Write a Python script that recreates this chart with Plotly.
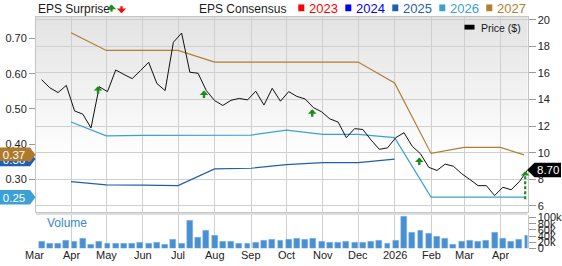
import pandas as pd
import plotly.graph_objects as go

# ---------------- data ----------------
# weekly closing price ($) and weekly volume (thousands of shares), Fridays
week_dates = pd.date_range("2025-03-07", periods=60, freq="7D")
price = [15.49, 14.88, 14.52, 15.06, 13.14, 12.90, 11.86, 14.96, 14.59, 16.22,
         15.88, 15.57, 16.17, 16.80, 15.20, 14.67, 18.30, 19.00, 16.05, 15.97,
         14.67, 13.92, 13.55, 13.94, 14.08, 13.97, 14.62, 13.58, 14.84, 13.87,
         14.59, 14.23, 14.04, 13.39, 13.07, 12.54, 12.30, 11.13, 11.81, 11.74,
         10.96, 10.25, 10.36, 11.13, 11.50, 10.48, 9.92, 8.90, 8.66, 9.14,
         8.98, 8.42, 7.98, 7.52, 7.52, 6.77, 7.40, 7.21, 7.81, 8.70]
volume_k = [22, 15, 15, 24, 22, 31, 13, 23, 14, 14,
            17, 14, 19, 15, 18, 12, 30, 16, 91, 36,
            58, 41, 21, 23, 16, 16, 19, 25, 30, 25,
            30, 32, 28, 32, 22, 19, 19, 22, 18, 19,
            23, 25, 14, 24, 104, 50, 59, 47, 38, 33,
            13, 23, 26, 22, 24, 50, 32, 22, 27, 41]

# consensus EPS estimates by fiscal year
eps_dates = ["2025-04-01", "2025-05-01", "2025-06-01", "2025-07-01", "2025-08-01",
             "2025-09-01", "2025-10-01", "2025-11-01", "2025-12-01", "2026-01-01",
             "2026-02-01", "2026-03-01", "2026-04-01", "2026-04-21"]
eps_2025 = [0.294, 0.285, 0.284, 0.283, 0.330, 0.332, 0.342, 0.348, 0.348, 0.358]
eps_2026 = [0.463, 0.424, 0.425, 0.425, 0.425, 0.426, 0.440, 0.428, 0.428, 0.419,
            0.25, 0.25, 0.25, 0.25]
eps_2027 = [0.716, 0.666, 0.666, 0.666, 0.633, 0.633, 0.633, 0.633, 0.633, 0.574,
            0.374, 0.391, 0.391, 0.37]

# positive EPS surprises (date, price level of the marker)
surprise_dates = ["2025-04-24", "2025-07-23", "2025-10-23", "2026-01-22"]
surprise_price = [15.00, 14.67, 13.26, 9.63]
# latest report marker: date, from, to ($)
latest_date = "2026-04-22"
latest_from, latest_to = 6.50, 8.60

month_ticks = ["2025-03-01", "2025-04-01", "2025-05-01", "2025-06-01", "2025-07-01",
               "2025-08-01", "2025-09-01", "2025-10-01", "2025-11-01", "2025-12-01",
               "2026-01-01", "2026-02-01", "2026-03-01", "2026-04-01"]
month_labels = ["Mar", "Apr", "May", "Jun", "Jul", "Aug", "Sep", "Oct", "Nov", "Dec",
                "2026", "Feb", "Mar", "Apr"]

legend_years = ["2023", "2024", "2025", "2026", "2027"]
year_colors = ["#ff0000", "#0000ff", "#1f5fb0", "#3da0d3", "#b37d30"]

# ---------------- geometry ----------------
W, H = 562, 266
X0, X1 = pd.Timestamp("2025-03-02 06:00"), pd.Timestamp("2026-04-23 23:00")
XDOM = [36 / W, 527.5 / W]
PRICE_TOP, PRICE_BOT = 14, 216
VOL_TOP, VOL_BOT = 219, 254
PRICE_DOM = [1 - PRICE_BOT / H, 1 - PRICE_TOP / H]
VOL_DOM = [1 - VOL_BOT / H, 1 - VOL_TOP / H]
EPS_RANGE = [0.2088, 0.7622]
PRICE_RANGE = [5.56, 20.24]
VOL_RANGE = [0, 109.4]

FONT = "Liberation Sans, Arial, sans-serif"
GRID = "#cfcfcf"
FRAME = "#c4c4c4"
GREEN = "#1c8c1c"


def px(x):
    return x / W


def py(y):
    return 1 - y / H


def xpaper(d):
    frac = (pd.Timestamp(d) - X0) / (X1 - X0)
    return XDOM[0] + frac * (XDOM[1] - XDOM[0])


def eps_pix(v):
    return PRICE_TOP + (EPS_RANGE[1] - v) / (EPS_RANGE[1] - EPS_RANGE[0]) * (PRICE_BOT - PRICE_TOP)


def price_pix(v):
    return PRICE_TOP + (PRICE_RANGE[1] - v) / (PRICE_RANGE[1] - PRICE_RANGE[0]) * (PRICE_BOT - PRICE_TOP)


fig = go.Figure()

# consensus lines (left axis)
for vals, col in [(eps_2025, year_colors[2]), (eps_2026, year_colors[3]), (eps_2027, year_colors[4])]:
    fig.add_trace(go.Scatter(x=eps_dates[:len(vals)], y=vals, mode="lines",
                             line=dict(color=col, width=1.2), xaxis="x", yaxis="y",
                             hoverinfo="skip", showlegend=False))

# price line (right axis)
fig.add_trace(go.Scatter(x=week_dates, y=price, mode="lines",
                         line=dict(color="#111111", width=1), xaxis="x", yaxis="y2",
                         hoverinfo="skip", showlegend=False))

# latest report: dashed stem
fig.add_trace(go.Scatter(x=[latest_date, latest_date], y=[latest_from, latest_to - 0.35],
                         mode="lines", line=dict(color=GREEN, width=2.2, dash="3px,2px"),
                         xaxis="x", yaxis="y2", hoverinfo="skip", showlegend=False))

# volume bars
fig.add_trace(go.Bar(x=week_dates, y=volume_k, xaxis="x2", yaxis="y3",
                     width=5 * 86400000, marker=dict(color="#4a8fd0", line=dict(color="#8dbbe6", width=0.5)),
                     hoverinfo="skip", showlegend=False))

shapes = []
annotations = []

# soft grey-to-white background of the price panel
N = 34
g_top, g_bot = PRICE_TOP, 165
for k in range(N):
    y0 = g_top + (g_bot - g_top) * k / N
    y1 = g_top + (g_bot - g_top) * (k + 1) / N + 0.5
    c = int(round(227 + (255 - 227) * k / (N - 1)))
    shapes.append(dict(type="rect", xref="paper", yref="paper", layer="below",
                       x0=XDOM[0], x1=XDOM[1], y0=py(y1), y1=py(y0),
                       fillcolor=f"rgb({c},{c},{c})", line=dict(width=0)))

# separator band between price and volume panels
shapes.append(dict(type="rect", xref="paper", yref="paper", layer="below",
                   x0=XDOM[0], x1=XDOM[1], y0=py(219.3), y1=py(216.5),
                   fillcolor="#dddddd", line=dict(width=0)))

# EPS surprise markers
for d, p in zip(surprise_dates, surprise_price):
    annotations.append(dict(x=d, y=p, xref="x", yref="y2", text="", showarrow=True,
                            ax=0, ay=9, arrowhead=1, arrowsize=0.6, arrowwidth=2.4,
                            arrowcolor=GREEN, standoff=0))
annotations.append(dict(x=latest_date, y=latest_to, xref="x", yref="y2", text="", showarrow=True,
                        ax=0, ay=5, arrowhead=1, arrowsize=0.6, arrowwidth=2.4,
                        arrowcolor=GREEN, standoff=0))


def left_badge(value, color, label):
    yc = eps_pix(value)
    path = (f"M 0,{py(yc - 7.5)} L {px(30)},{py(yc - 7.5)} L {px(35.5)},{py(yc)} "
            f"L {px(30)},{py(yc + 7.5)} L 0,{py(yc + 7.5)} Z")
    shapes.append(dict(type="path", path=path, xref="paper", yref="paper",
                       fillcolor=color, line=dict(width=0), layer="above"))
    # the label box carries the badge colour so later badges cover earlier labels
    annotations.append(dict(x=0, y=py(yc), xref="paper", yref="paper", text=label,
                            showarrow=False, xanchor="left", yanchor="middle",
                            width=28, height=13, borderpad=0, align="center",
                            bgcolor=color, borderwidth=0,
                            font=dict(family=FONT, size=11.5, color="white")))


left_badge(eps_2025[-1], year_colors[2], f"{eps_2025[-1]:.2f}")
left_badge(eps_2027[-1], "#b07a2e", f"{eps_2027[-1]:.2f}")
left_badge(eps_2026[-1], "#3aa0d5", f"{eps_2026[-1]:.2f}")

# last price badge on the right
yc = price_pix(price[-1])
path = (f"M {px(527)},{py(yc)} L {px(534.5)},{py(yc - 7.5)} L {px(561)},{py(yc - 7.5)} "
        f"L {px(561)},{py(yc + 7.5)} L {px(534.5)},{py(yc + 7.5)} Z")
shapes.append(dict(type="path", path=path, xref="paper", yref="paper",
                   fillcolor="#000000", line=dict(width=0), layer="above"))
annotations.append(dict(x=px(548), y=py(yc), xref="paper", yref="paper", text=f"{price[-1]:.2f}",
                        showarrow=False, xanchor="center", yanchor="middle",
                        font=dict(family=FONT, size=11.5, color="white")))

# header: titles and year legend
annotations.append(dict(x=px(35.5), y=py(6.5), xref="paper", yref="paper", text="EPS Surprise",
                        showarrow=False, xanchor="left", yanchor="middle",
                        font=dict(family=FONT, size=12, color="#1a1a1a")))
annotations.append(dict(x=px(111.5), y=py(1.5), xref="paper", yref="paper", text="", showarrow=True,
                        ax=0, ay=8.5, arrowhead=1, arrowsize=0.65, arrowwidth=2.4,
                        arrowcolor=GREEN, standoff=0))
annotations.append(dict(x=px(121.5), y=py(10.5), xref="paper", yref="paper", text="", showarrow=True,
                        ax=0, ay=-8.5, arrowhead=1, arrowsize=0.65, arrowwidth=2.4,
                        arrowcolor="#ee1111", standoff=0))
annotations.append(dict(x=px(196.5), y=py(6.5), xref="paper", yref="paper", text="EPS Consensus",
                        showarrow=False, xanchor="left", yanchor="middle",
                        font=dict(family=FONT, size=12, color="#1a1a1a")))
leg_x = [298.3, 345.3, 392.3, 439.3, 486.3]
for lx, yr, col in zip(leg_x, legend_years, year_colors):
    shapes.append(dict(type="rect", xref="paper", yref="paper", x0=px(lx), x1=px(lx + 6),
                       y0=py(8.5), y1=py(1.5), fillcolor=col, line=dict(width=0)))
    annotations.append(dict(x=px(lx + 8.5), y=py(5.5), xref="paper", yref="paper", text=yr,
                            showarrow=False, xanchor="left", yanchor="middle",
                            font=dict(family=FONT, size=13, color=col)))

# price legend inside the panel
shapes.append(dict(type="rect", xref="paper", yref="paper", x0=px(464.5), x1=px(474.5),
                   y0=py(27.5), y1=py(22.5), fillcolor="#000000", line=dict(width=0)))
annotations.append(dict(x=px(478.5), y=py(25.5), xref="paper", yref="paper", text="Price ($)",
                        showarrow=False, xanchor="left", yanchor="middle",
                        font=dict(family=FONT, size=10.5, color="#1a1a1a")))

# volume panel title
annotations.append(dict(x=px(44.5), y=py(228), xref="paper", yref="paper", text="Volume",
                        showarrow=False, xanchor="left", yanchor="middle",
                        font=dict(family=FONT, size=12, color="#3b86cc")))

# month labels under the volume panel
for d, lab in zip(month_ticks, month_labels):
    annotations.append(dict(x=xpaper(d), y=py(261), xref="paper", yref="paper", text=lab,
                            showarrow=False, xanchor="center", yanchor="middle",
                            font=dict(family=FONT, size=11, color="#222222")))

grid_ticks = month_ticks[1:]
tick_font = dict(family=FONT, size=11, color="#222222")

fig.update_layout(
    width=W, height=H,
    margin=dict(l=0, r=0, t=0, b=0, pad=0),
    paper_bgcolor="white", plot_bgcolor="rgba(0,0,0,0)",
    showlegend=False,
    xaxis=dict(domain=XDOM, range=[X0, X1], anchor="y", type="date",
               tickvals=grid_ticks, showticklabels=False, ticks="",
               showgrid=True, gridcolor=GRID, gridwidth=1,
               showline=True, linecolor=FRAME, mirror=True, zeroline=False, fixedrange=True),
    yaxis=dict(domain=PRICE_DOM, range=EPS_RANGE, anchor="x", side="left",
               tickvals=[0.30, 0.40, 0.50, 0.60, 0.70],
               ticktext=["0.30", "0.40", "0.50", "0.60", "0.70"],
               ticks="outside", ticklen=6, tickcolor="#9a9a9a", tickfont=tick_font,
               showgrid=False, zeroline=False, showline=True, linecolor=FRAME),
    yaxis2=dict(range=PRICE_RANGE, overlaying="y", anchor="x", side="right",
                tickvals=[6, 8, 10, 12, 14, 16, 18, 20],
                ticks="outside", ticklen=7, tickcolor="#9a9a9a", tickfont=tick_font,
                showgrid=True, gridcolor=GRID, zeroline=False, showline=True, linecolor=FRAME),
    xaxis2=dict(domain=XDOM, range=[X0, X1], anchor="y3", type="date",
                tickvals=grid_ticks, showticklabels=False, ticks="",
                showgrid=True, gridcolor=GRID, showline=False, zeroline=False),
    yaxis3=dict(domain=VOL_DOM, range=VOL_RANGE, anchor="x2", side="right",
                tickvals=[0, 20, 40, 60, 80, 100],
                ticktext=["0", "20k", "40k", "60k", "80k", "100k"],
                ticks="outside", ticklen=7, tickcolor="#9a9a9a", tickfont=tick_font,
                showgrid=False, zeroline=False, showline=True, linecolor=FRAME),
    bargap=0,
    shapes=shapes,
    annotations=annotations,
)

fig.write_html("out.html")
